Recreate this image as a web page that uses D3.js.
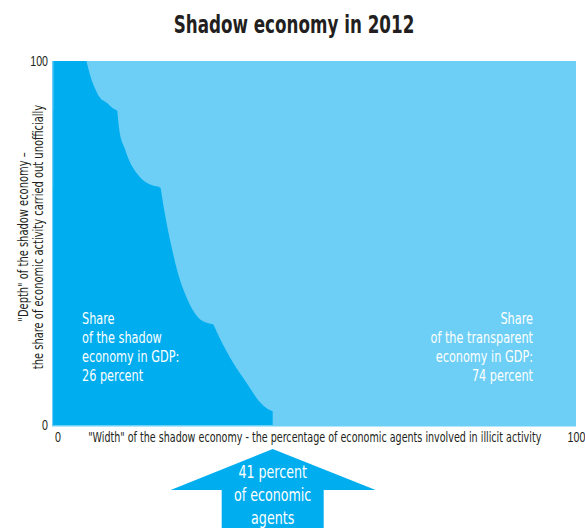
<!DOCTYPE html>
<html>
<head>
<meta charset="utf-8">
<script src="https://cdn.jsdelivr.net/npm/d3@7"></script>
<style>
  body { margin: 0; background: #fff; }
  svg { display: block; font-family: "DejaVu Sans", "Noto Sans", sans-serif; font-stretch: condensed; }
</style>
</head>
<body>
<svg id="chart" width="585" height="528"></svg>
<script>
// scallop segments of the shadow-economy boundary: [width %, depth %]
var seg1 = [[6.3, 100], [7.3, 94.8], [7.9, 92.6], [8.8, 90.1], [10.2, 88.5], [11.3, 87.1], [12.1, 86.5]];
var seg2 = [[12.2, 86.4], [12.6, 81.0], [13.6, 76.1], [14.6, 72.3], [15.9, 69.2], [17.1, 67.3], [18.8, 65.9], [20.3, 65.4]];
var seg3 = [[20.5, 65.2], [21.3, 58.2], [22.6, 48.9], [23.8, 41.8], [25.7, 34.3], [27.6, 29.7], [29.5, 28.0], [30.5, 27.7]];
var seg4 = [[30.6, 27.6], [31.8, 23.9], [34.3, 17.3], [37.0, 11.5], [39.5, 6.3], [41.0, 4.4], [41.95, 3.8]];

var xTicks = [0, 100];
var yTicks = [0, 100];

var titleText = "Shadow economy in 2012";
var xTitle = "\"Width\" of the shadow economy - the percentage of economic agents involved in illicit activity";
var yTitle = ["\"Depth\" of the shadow economy \u2013", "the share of economic activity carried out unofficially"];
var shadowLabel = ["Share", "of the shadow", "economy in GDP:", "26 percent"];
var whiteLabel = ["Share", "of the transparent", "economy in GDP:", "74 percent"];
var arrowLabel = ["41 percent", "of economic", "agents"];

var DARK = "#00aeef", LIGHT = "#6dcff6", INK = "#231f20";

// no narrow font installed: squeeze glyphs horizontally
function condense(svg, k) {
    svg.selectAll("text").each(function () {
        var len = this.getComputedTextLength();
        d3.select(this)
            .attr("textLength", len * k)
            .attr("lengthAdjust", "spacingAndGlyphs");
    });
}

make_shadow_chart = function () {

    var margin = { top: 61, right: 9, bottom: 103, left: 53.5 };
    var width = 585, height = 528;

    var x = d3.scaleLinear()
        .domain([0, 100])
        .range([margin.left, width - margin.right]);

    var y = d3.scaleLinear()
        .domain([0, 100])
        .range([height - margin.bottom, margin.top]);

    var svg = d3.select("#chart");

    svg.append("text")
        .attr("x", 294).attr("y", 33)
        .attr("text-anchor", "middle")
        .attr("font-size", 24.5).attr("font-weight", "bold")
        .attr("fill", INK)
        .text(titleText);

    // transparent economy background
    svg.append("rect")
        .attr("x", x(0) - 1.5).attr("y", y(100))
        .attr("width", x(100) - x(0) + 1.5)
        .attr("height", y(0) - y(100) + 1.5)
        .attr("fill", LIGHT);

    // each scallop: fill from the left edge to its curve, down to the floor
    var curve = d3.line()
        .x(d => x(d[0]))
        .y(d => y(d[1]))
        .curve(d3.curveMonotoneX);

    var segs = [seg1, seg2, seg3, seg4];
    svg.append("g")
        .selectAll("path")
        .data(segs)
        .join("path")
        .attr("fill", DARK)
        .attr("d", s => {
            var last = s[s.length - 1];
            return "M" + x(0) + "," + y(0) +
                "L" + x(0) + "," + y(s[0][1]) +
                curve(s).replace(/^M/, "L") +
                "L" + x(last[0]) + "," + y(0) + "Z";
        });

    var yAxis = g => g
        .attr("transform", `translate(${x(0) - 1.5},0)`)
        .call(d3.axisLeft(y).tickValues(yTicks).tickSize(0).tickPadding(4))
        .call(g => g.select(".domain").remove())
        .call(g => g.selectAll("text").attr("font-size", 14).attr("fill", INK).attr("font-family", null));

    var xAxis = g => g
        .attr("transform", `translate(0,${y(0)})`)
        .call(d3.axisBottom(x).tickValues(xTicks).tickSize(0).tickPadding(7))
        .call(g => g.select(".domain").remove())
        .call(g => g.selectAll("text").attr("font-size", 14).attr("fill", INK).attr("font-family", null))
        .call(g => g.selectAll(".tick").filter(d => d === 0).select("text").attr("text-anchor", "start").attr("dx", 1));

    svg.append("g").call(xAxis);
    svg.append("g").call(yAxis);

    svg.append("text")
        .attr("x", (x(0) + x(100)) / 2).attr("y", y(0) + 16.5)
        .attr("text-anchor", "middle")
        .attr("font-size", 14).attr("fill", INK)
        .text(xTitle);

    svg.append("g")
        .attr("transform", "translate(0,237) rotate(-90)")
        .selectAll("text")
        .data(yTitle)
        .join("text")
        .attr("x", 0)
        .attr("y", (d, i) => 28 + i * 15)
        .attr("text-anchor", "middle")
        .attr("font-size", 14.5).attr("fill", INK)
        .text(d => d);

    svg.append("g")
        .selectAll("text")
        .data(shadowLabel)
        .join("text")
        .attr("x", 82)
        .attr("y", (d, i) => 324 + i * 19)
        .attr("font-size", 16.5).attr("fill", "#fff")
        .text(d => d);

    svg.append("g")
        .selectAll("text")
        .data(whiteLabel)
        .join("text")
        .attr("x", 533)
        .attr("y", (d, i) => 324 + i * 19)
        .attr("text-anchor", "end")
        .attr("font-size", 16.5).attr("fill", "#fff")
        .text(d => d);

    // arrow pointing at the edge of the shadow area
    var tipX = x(seg4[seg4.length - 1][0]);
    var tipY = 449;
    var arrow = d3.path();
    arrow.moveTo(tipX, tipY);
    arrow.lineTo(tipX + 103, tipY + 41);
    arrow.lineTo(tipX + 51, tipY + 41);
    arrow.lineTo(tipX + 51, height);
    arrow.lineTo(tipX - 51, height);
    arrow.lineTo(tipX - 51, tipY + 41);
    arrow.lineTo(tipX - 102, tipY + 41);
    arrow.closePath();

    svg.append("path")
        .attr("d", arrow.toString())
        .attr("fill", DARK);

    svg.append("g")
        .selectAll("text")
        .data(arrowLabel)
        .join("text")
        .attr("x", tipX)
        .attr("y", (d, i) => 478 + i * 23)
        .attr("text-anchor", "middle")
        .attr("font-size", 18.5).attr("fill", "#fff")
        .text(d => d);

    condense(svg, 0.76);
}

make_shadow_chart();
</script>
</body>
</html>
